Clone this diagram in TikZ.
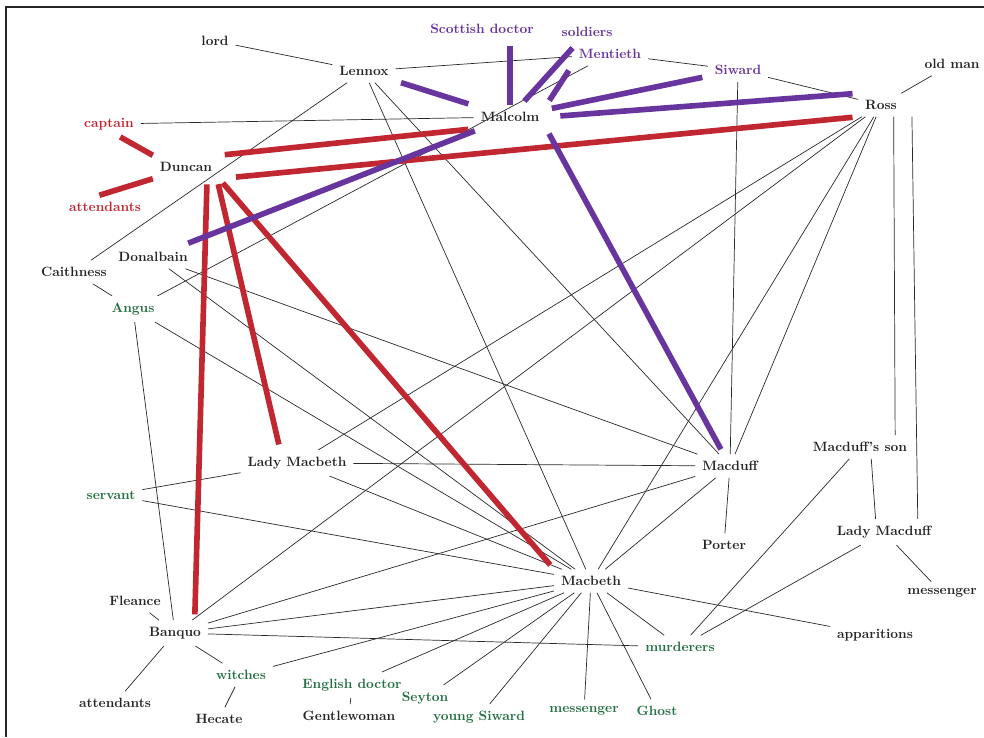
\documentclass[tikz,border=0pt]{standalone}
\usepackage{xcolor}
\usepackage{tikz}
\usetikzlibrary{positioning}

\definecolor{duncred}{RGB}{192,39,48}
\definecolor{malpurple}{RGB}{104,52,158}
\definecolor{chargreen}{RGB}{36,112,66}
\definecolor{linegray}{RGB}{45,40,40}

\tikzset{
  ch/.style={font=\fontsize{9.6}{11}\selectfont\bfseries, text=black!85, inner sep=1pt, outer sep=4pt},
  chr/.style={ch, text=duncred},
  chp/.style={ch, text=malpurple},
  chg/.style={ch, text=chargreen},
  link/.style={draw=linegray, line width=0.5pt},
  redlink/.style={draw=duncred, line width=4pt, shorten <=4pt, shorten >=4pt},
  purplink/.style={draw=malpurple, line width=4pt, shorten <=4pt, shorten >=4pt}
}

\begin{document}
\begin{tikzpicture}[x=0.025cm, y=-0.025cm]
		\useasboundingbox (0,0) rectangle (984,737);
		\draw[line width=2pt, black!85] (6,737) -- (6,7) -- (984,7);

		\node[ch] (lord) at (215,41) {lord};
		\node[ch] (Lennox) at (364,71) {Lennox};
		\node[chp] (sdoctor) at (482,29) {Scottish doctor};
		\node[chp] (soldiers) at (587,32) {soldiers};
		\node[chp] (Mentieth) at (610,54) {Mentieth};
		\node[chp] (Siward) at (738,70) {Siward};
		\node[ch] (oldman) at (952,64) {old man};
		\node[ch] (Ross) at (881,105) {Ross};
		\node[ch] (Malcolm) at (510,117) {Malcolm};
		\node[chr] (captain) at (109,124) {captain};
		\node[ch] (Duncan) at (186,167) {Duncan};
		\node[chr] (attR) at (105,207) {attendants};
		\node[ch] (Donalbain) at (153,257) {Donalbain};
		\node[ch] (Caithness) at (74,272) {Caithness};
		\node[chg] (Angus) at (133,309) {Angus};
		\node[ch] (LadyMacbeth) at (297,463) {Lady Macbeth};
		\node[ch] (Macduff) at (730,466) {Macduff};
		\node[ch] (son) at (860,447) {Macduff's son};
		\node[chg] (servant) at (111,495) {servant};
		\node[ch] (LadyMacduff) at (884,532) {Lady Macduff};
		\node[ch] (Porter) at (724,545) {Porter};
		\node[ch] (Macbeth) at (591,581) {Macbeth};
		\node[ch] (messR) at (942,593) {messenger};
		\node[ch] (Fleance) at (135,601) {Fleance};
		\node[ch] (Banquo) at (175,633) {Banquo};
		\node[ch] (apparitions) at (875,635) {apparitions};
		\node[chg] (murderers) at (680,647) {murderers};
		\node[chg] (witches) at (241,675) {witches};
		\node[ch] (attB) at (115,703) {attendants};
		\node[chg] (edoctor) at (352,685) {English doctor};
		\node[chg] (Seyton) at (425,698) {Seyton};
		\node[ch] (Gentlewoman) at (349,716) {Gentlewoman};
		\node[chg] (ysiward) at (479,717) {young Siward};
		\node[chg] (messG) at (584,711) {messenger};
		\node[chg] (Ghost) at (657,711) {Ghost};
		\node[ch] (Hecate) at (219,719) {Hecate};

		\draw[link] (lord) -- (Lennox);
		\draw[link] (Lennox) -- (Mentieth);
		\draw[link] (Lennox) -- (Caithness);
		\draw[link] (Lennox) -- (Macbeth);
		\draw[link] (Lennox) -- (Macduff);
		\draw[link] (captain) -- (Malcolm);
		\draw[link] (Mentieth) -- (Siward);
		\draw[link] (Mentieth) -- (Angus);
		\draw[link] (Siward) -- (Ross);
		\draw[link] (Siward) -- (Macduff);
		\draw[link] (oldman) -- (Ross);
		\draw[link] (Ross) -- (LadyMacbeth);
		\draw[link] (Ross) -- (Banquo);
		\draw[link] (Ross) -- (Macbeth);
		\draw[link] (Ross) -- (Macduff);
		\draw[link] ([xshift=9pt]Ross.south) -- ([xshift=25pt]son.north);
		\draw[link] ([xshift=22pt]Ross.south) -- ([xshift=24pt]LadyMacduff.north);
		\draw[link] ([xshift=8pt]son.south) -- ([xshift=-6pt]LadyMacduff.north);
		\draw[link] (son) -- (murderers);
		\draw[link] (LadyMacduff) -- (murderers);
		\draw[link] (LadyMacduff) -- (messR);
		\draw[link] (Caithness) -- (Angus);
		\draw[link] (Donalbain) -- (Macduff);
		\draw[link] (Donalbain) -- (Macbeth);
		\draw[link] (Angus) -- (Macbeth);
		\draw[link] (Angus) -- (Banquo);
		\draw[link] (LadyMacbeth) -- (servant);
		\draw[link] (LadyMacbeth) -- (Macduff);
		\draw[link] (LadyMacbeth) -- (Macbeth);
		\draw[link] (servant) -- (Macbeth);
		\draw[link] (Macduff) -- (Porter);
		\draw[link] (Macduff) -- (Macbeth);
		\draw[link] (Macduff) -- (Banquo);
		\draw[link] (Banquo) -- (Macbeth);
		\draw[link] (Banquo) -- (murderers);
		\draw[link] (Banquo) -- (Fleance);
		\draw[link] (Banquo) -- (attB);
		\draw[link] (Banquo) -- (witches);
		\draw[link] (witches) -- (Macbeth);
		\draw[link] (witches) -- (Hecate);
		\draw[link] (edoctor) -- (Macbeth);
		\draw[link] (edoctor) -- (Gentlewoman);
		\draw[link] (Seyton) -- (Macbeth);
		\draw[link] (ysiward) -- (Macbeth);
		\draw[link] (messG) -- (Macbeth);
		\draw[link] (Ghost) -- (Macbeth);
		\draw[link] (murderers) -- (Macbeth);
		\draw[link] (apparitions) -- (Macbeth);

		\draw[redlink, shorten <=0pt, shorten >=0pt] ([xshift=8pt]captain.south) -- (Duncan.north west);
		\draw[redlink, shorten <=0pt, shorten >=0pt] (Duncan.south west) -- ([xshift=-4pt]attR.north);
		\draw[redlink] (Duncan.north east) -- (Malcolm.south west);
		\draw[redlink, shorten <=12pt] (Duncan.south east) -- (Ross.south west);
		\draw[redlink] ([xshift=15pt]Duncan.south) -- ([xshift=14pt]Banquo.north);
		\draw[redlink] ([xshift=22pt]Duncan.south) -- ([xshift=-12pt]LadyMacbeth.north);
		\draw[redlink] (Duncan.south east) -- (Macbeth.north west);

		\draw[purplink] (Malcolm) -- (Lennox);
		\draw[purplink, shorten <=0pt] (Malcolm.north) -- (Malcolm.north |- sdoctor.south);
		\draw[purplink] (Malcolm) -- (soldiers);
		\draw[purplink] (Malcolm.north east) -- (Mentieth.south west);
		\draw[purplink] (Malcolm) -- (Siward);
		\draw[purplink, shorten <=10pt] (Malcolm.east) -- (Ross.north west);
		\draw[purplink] (Malcolm.south east) -- (Macduff);
		\draw[purplink] (Malcolm) -- (Donalbain);
	\end{tikzpicture}
\end{document}
